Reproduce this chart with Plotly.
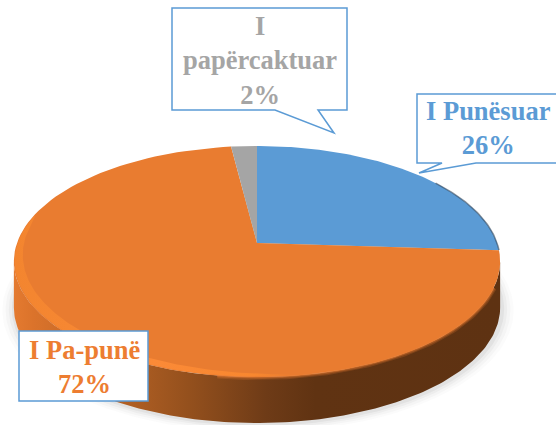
import numpy as np
import plotly.graph_objects as go

categories = ["I Punësuar", "I Pa-punë", "I papërcaktuar"]
values = [26, 72, 2]
colors = ["#5B9BD5", "#E97C30", "#A5A5A5"]
text_colors = ["#5B9BD5", "#ED7D31", "#A5A5A5"]

W, H = 556, 425
APEX_X, APEX_Y = 257, 243   # projected centre of the disc
R_X, R_Y, PERSP = 240, 112.6, 0.16
DEPTH = 46


def rim(t, r=1.0):
    """Point at clockwise angle t from 12 o'clock, on a tilted disc seen in perspective."""
    t = np.asarray(t, dtype=float)
    u, v = r * np.sin(t), -r * np.cos(t)
    d = 1 - PERSP * v
    return APEX_X + R_X * u / d, APEX_Y + R_Y * v / d


fig = go.Figure()

# soft ground shadow
tt = np.linspace(0, 2 * np.pi, 240)
for grow, alpha in [(1.05, .025), (1.037, .035), (1.024, .05), (1.012, .07)]:
    sx, sy = rim(tt, grow)
    fig.add_trace(go.Scatter(x=sx + 1, y=sy + DEPTH + 1, mode="lines", line=dict(width=0), fill="toself",
                             fillcolor=f"rgba(90,90,90,{alpha})", hoverinfo="skip", showlegend=False))

# side wall of the disc
front = np.linspace(np.radians(99.2), np.radians(260.8), 160)
fx, fy = rim(front)
side_x = np.r_[fx, fx[::-1]]
side_y = np.r_[fy, fy[::-1] + DEPTH]
fig.add_trace(go.Scatter(
    x=side_x, y=side_y, mode="lines", line=dict(width=0), fill="toself",
    fillgradient=dict(type="horizontal", colorscale=[
        [0, "#E47A30"], [.04, "#DB732B"], [.2, "#B86325"], [.36, "#94501D"],
        [.52, "#6E3B17"], [.62, "#603312"], [1, "#5E3212"]]),
    hoverinfo="skip", showlegend=False))

# soft transition between top face and dark wall
blur_t = np.linspace(np.radians(112), np.radians(188), 100)
blx, bly = rim(blur_t)
for w, a in [(6, .22), (3.5, .35), (1.5, .5)]:
    fig.add_trace(go.Scatter(x=blx, y=bly, mode="lines", line=dict(width=w, color=f"rgba(233,124,48,{a})"),
                             hoverinfo="skip", showlegend=False))

# slices from the values
cum = np.cumsum([0] + values) / sum(values) * 2 * np.pi
for i, cat in enumerate(categories):
    t = np.linspace(cum[i], cum[i + 1], 120)
    ex, ey = rim(t)
    fig.add_trace(go.Scatter(x=np.r_[APEX_X, ex, APEX_X], y=np.r_[APEX_Y, ey, APEX_Y],
                             mode="lines", line=dict(width=0), fill="toself",
                             fillcolor=colors[i],
                             name=cat, text=f"{cat} {values[i]}%", hoverinfo="text", showlegend=False))

# light bevel along the front edge of the orange slice (left part only), tapering off
bt = np.linspace(np.radians(172), np.radians(285), 140)
bx, by = rim(bt, .997)
ramp = np.sin(np.linspace(0, np.pi, bt.size)) ** .6
ix, iy = rim(bt, .997 - .045 * ramp)
fig.add_trace(go.Scatter(x=np.r_[bx, ix[::-1]], y=np.r_[by, iy[::-1]], mode="lines", line=dict(width=0),
                         fill="toself",
                         fillgradient=dict(type="horizontal", colorscale=[
                             [0, "#F3852F"], [.5, "#FB8A37"], [.85, "#F8872F"], [1, "#E97C30"]]),
                         hoverinfo="skip", showlegend=False))

# dark rim on the right of the blue slice
dt = np.linspace(.95, cum[1], 50)
dx, dy = rim(dt)
fig.add_trace(go.Scatter(x=dx, y=dy, mode="lines", line=dict(width=1.5, color="rgba(50,70,90,.6)"),
                         hoverinfo="skip", showlegend=False))

# callouts
line = dict(color="#5B9BD5", width=1.5)
shapes = [
    dict(type="path", path="M172,8 H347 V110 H318 L334,133 L275,110 H172 Z", line=line, fillcolor="white"),
    dict(type="path", path="M417,94 H560 V163 H476 L419,173 L442,163 H417 Z", line=line, fillcolor="white"),
    dict(type="rect", x0=19, y0=331, x1=148, y1=401, line=line, fillcolor="white"),
]
labels = [(488, 128, 0), (84, 367, 1), (260, 60, 2)]
texts = {0: f"{categories[0]}<br>{values[0]}%",
         1: f"{categories[1]}<br>{values[1]}%",
         2: f"I<br>papërcaktuar<br>{values[2]}%"}
annotations = [dict(x=x, y=y, text=f"<b>{texts[i]}</b>", showarrow=False, xanchor="center", yanchor="middle",
                    font=dict(family="Liberation Serif", size=26.5, color=text_colors[i]))
               for x, y, i in labels]

fig.update_layout(
    width=W, height=H, margin=dict(l=0, r=0, t=0, b=0), paper_bgcolor="white", plot_bgcolor="white",
    showlegend=False, shapes=shapes, annotations=annotations,
    xaxis=dict(range=[0, W], visible=False, fixedrange=True),
    yaxis=dict(range=[H, 0], visible=False, fixedrange=True),
)
fig.write_html("out.html", config={"displayModeBar": False},
               post_script="document.body.style.margin='0';document.body.style.overflow='hidden';")
